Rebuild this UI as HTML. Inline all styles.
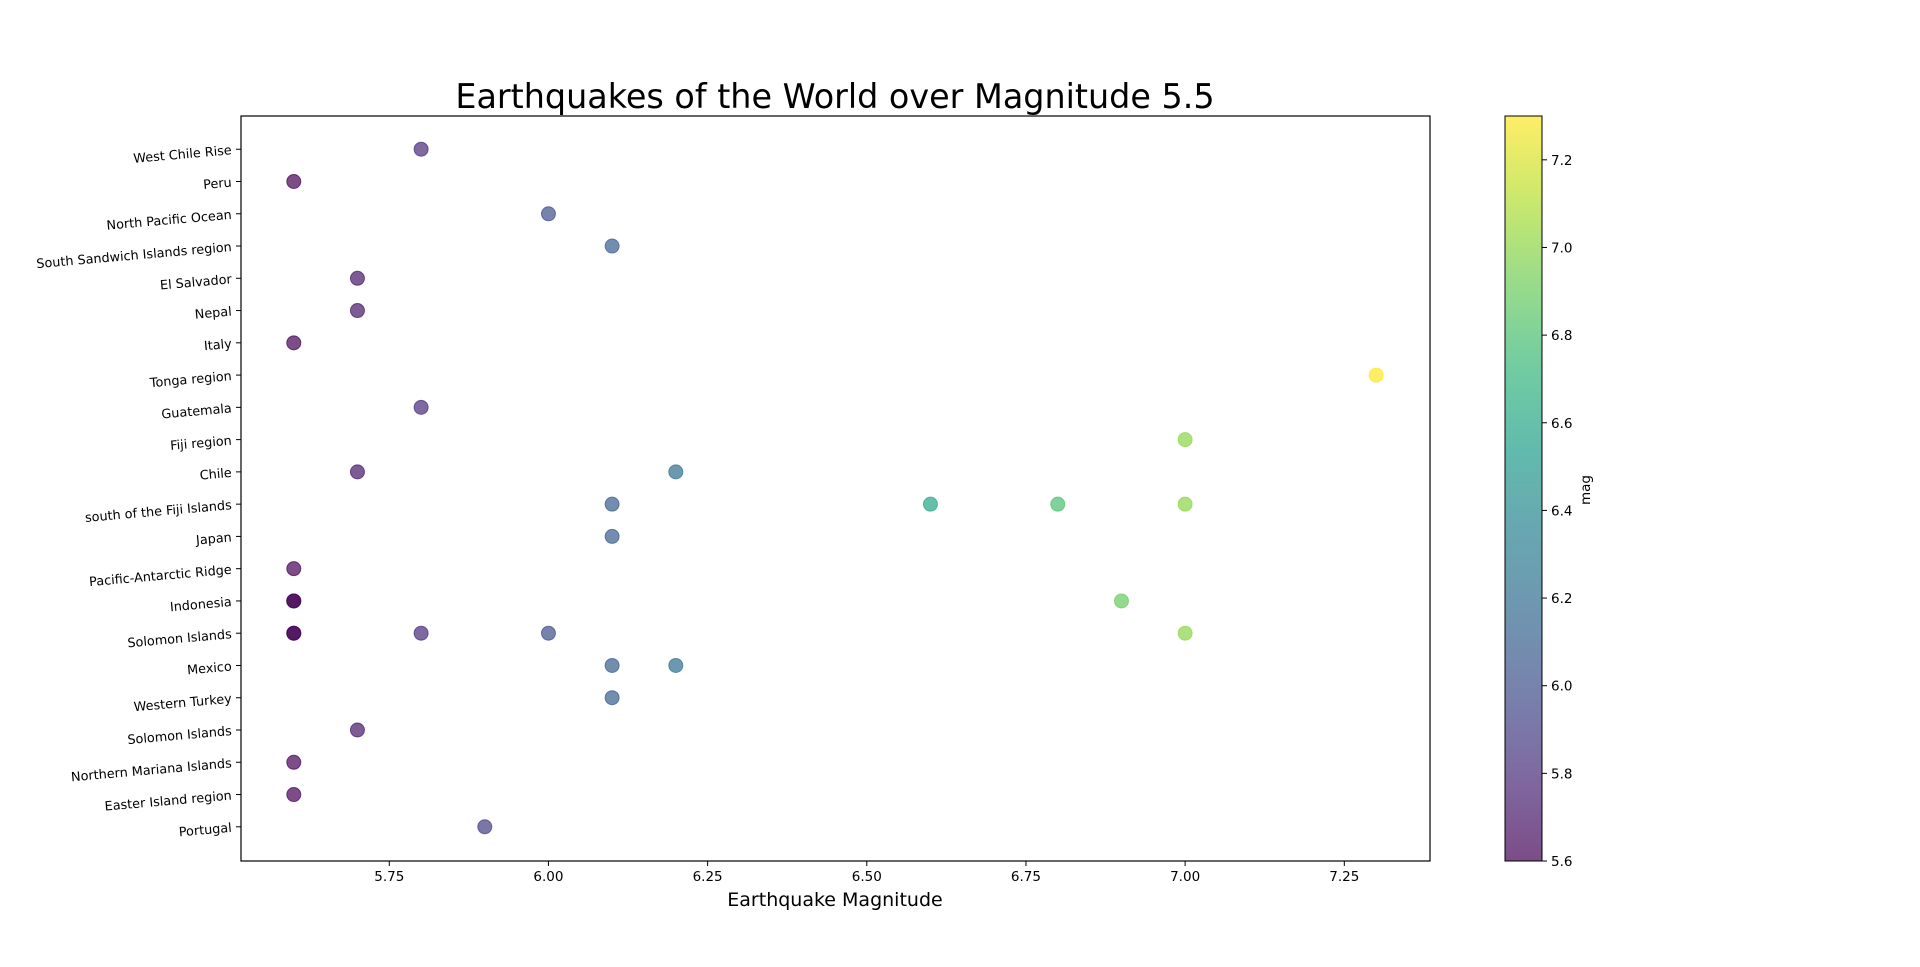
<!DOCTYPE html>
<html><head><meta charset="utf-8"><style>
html,body{margin:0;padding:0;background:#fff;}
svg{display:block;font-family:"DejaVu Sans","Liberation Sans",sans-serif;}
</style></head><body>
<svg id="chart" width="1920" height="967" viewBox="0 0 1920 967" xmlns="http://www.w3.org/2000/svg">
<defs><linearGradient id="cbgrad" x1="0" y1="1" x2="0" y2="0"></linearGradient></defs>
<text x="835" y="108" font-size="33.4" text-anchor="middle" fill="#000">Earthquakes of the World over Magnitude 5.5</text>
<g id="plot"></g>
<rect x="241" y="116" width="1189" height="745" fill="none" stroke="#000" stroke-width="1.2"/>
<text x="835" y="906" font-size="19" text-anchor="middle" fill="#000">Earthquake Magnitude</text>
<g id="cbar"></g>
<text transform="translate(1590,490) rotate(-90)" font-size="13.5" text-anchor="middle" fill="#000">mag</text>
</svg>
<script>
const categories=["Portugal","Easter Island region","Northern Mariana Islands","Solomon Islands ","Western Turkey","Mexico","Solomon Islands","Indonesia","Pacific-Antarctic Ridge","Japan","south of the Fiji Islands","Chile","Fiji region","Guatemala","Tonga region","Italy","Nepal","El Salvador","South Sandwich Islands region","North Pacific Ocean","Peru","West Chile Rise"];
const pointCats=["West Chile Rise","Peru","North Pacific Ocean","South Sandwich Islands region","El Salvador","Nepal","Italy","Tonga region","Guatemala","Fiji region","Chile","Chile","south of the Fiji Islands","south of the Fiji Islands","south of the Fiji Islands","south of the Fiji Islands","Japan","Pacific-Antarctic Ridge","Indonesia","Indonesia","Indonesia","Solomon Islands","Solomon Islands","Solomon Islands","Solomon Islands","Solomon Islands","Mexico","Mexico","Western Turkey","Solomon Islands ","Northern Mariana Islands","Easter Island region","Portugal"];
const pointMags=[5.8,5.6,6.0,6.1,5.7,5.7,5.6,7.3,5.8,7.0,5.7,6.2,6.1,6.6,6.8,7.0,6.1,5.6,5.6,5.6,6.9,5.6,5.6,5.8,6.0,7.0,6.1,6.2,6.1,5.7,5.6,5.6,5.9];
const xTicks=[5.75,6.00,6.25,6.50,6.75,7.00,7.25];
const cbTicks=[5.6,5.8,6.0,6.2,6.4,6.6,6.8,7.0,7.2];

const NS="http://www.w3.org/2000/svg";
const L=241,R=1430,T=116,B=861;
const xMin=5.5171,xMax=7.3846;
const yMin=-1.06,yMax=22.03;
const cMin=5.6,cMax=7.3;
function xs(v){return L+(v-xMin)/(xMax-xMin)*(R-L);}
function ys(i){return B-(i-yMin)/(yMax-yMin)*(B-T);}
const vir=[[68,1,84],[72,40,120],[62,74,137],[49,104,142],[38,130,142],[31,158,137],[53,183,121],[109,205,89],[180,222,44],[253,231,37]];
function viridis(t){t=Math.max(0,Math.min(1,t));const p=t*(vir.length-1);const i=Math.min(Math.floor(p),vir.length-2);const f=p-i;
return vir[i].map((c,k)=>c+(vir[i+1][k]-c)*f);}
function rgb(c){return "rgb("+c.map(Math.round).join(",")+")";}
function blend(c){return c.map(v=>v*0.7+255*0.3);}
function mk(tag,attrs,parent){const e=document.createElementNS(NS,tag);for(const k in attrs)e.setAttribute(k,attrs[k]);parent.appendChild(e);return e;}
const plot=document.getElementById('plot');
xTicks.forEach(v=>{
  const x=xs(v);
  const t=mk('line',{x1:x,x2:x,y1:B,y2:B+5,stroke:'#000','stroke-width':1},plot);
  
  
  const lb=mk('text',{x:x,y:B+20,'font-size':13.5,'text-anchor':'middle',fill:'#000'},plot);
  lb.textContent=v.toFixed(2);
  
  
});
categories.forEach((c,i)=>{
  const y=ys(i);
  const t=mk('line',{x1:L-5,x2:L,y1:y,y2:y,stroke:'#000','stroke-width':1},plot);
  
  
  const lb=mk('text',{x:L-9,y:y+5,'font-size':12.8,'text-anchor':'end',fill:'#000',transform:'rotate(-5 '+(L-9)+' '+(y+5)+')'},plot);
  lb.textContent=c.trim();
  
  
});
pointCats.forEach((c,i)=>{
  const idx=categories.indexOf(c);
  const col=viridis((pointMags[i]-cMin)/(cMax-cMin));
  const p=mk('circle',{cx:xs(pointMags[i]),cy:ys(idx),r:7,fill:rgb(col),'fill-opacity':0.7,stroke:rgb(col),'stroke-opacity':0.7,'stroke-width':1},plot);
  
  
});
const grad=document.getElementById('cbgrad');
for(let k=0;k<=20;k++){mk('stop',{offset:(k/20),'stop-color':rgb(blend(viridis(k/20)))},grad);}
const cb=document.getElementById('cbar');
const CL=1505,CR=1542,CT=116,CB=861;
const bar=mk('rect',{x:CL,y:CT,width:CR-CL,height:CB-CT,fill:'url(#cbgrad)',stroke:'#000','stroke-width':1},cb);


function cy(v){return CB-(v-cMin)/(cMax-cMin)*(CB-CT);}
cbTicks.forEach(v=>{
  const y=cy(v);
  const t=mk('line',{x1:CR,x2:CR+5,y1:y,y2:y,stroke:'#000','stroke-width':1},cb);
  
  
  const lb=mk('text',{x:CR+9,y:y+5,'font-size':13.5,fill:'#000'},cb);
  lb.textContent=v.toFixed(1);
  
  
});
</script>
</body></html>
